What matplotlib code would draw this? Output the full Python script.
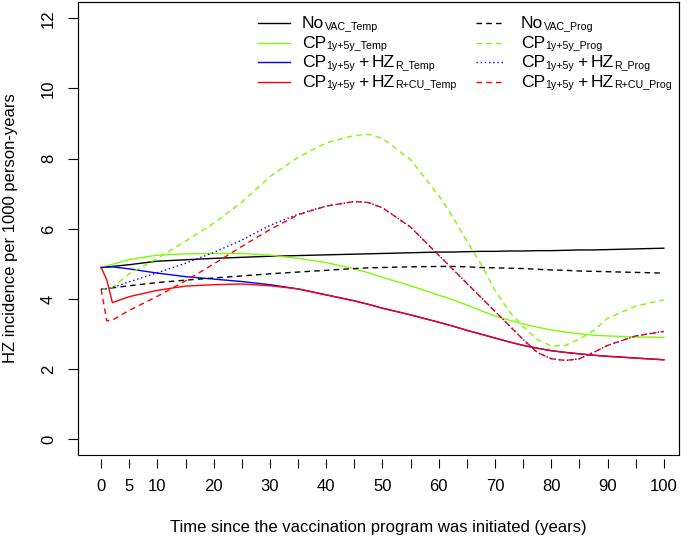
import matplotlib
matplotlib.use('Agg')
import matplotlib.pyplot as plt

plt.rcParams['font.family'] = ['Liberation Sans', 'DejaVu Sans']
plt.rcParams['lines.scale_dashes'] = False

# time since the program started (years)
years = [0, 1, 2, 5, 10, 15, 20, 25, 30, 35, 40, 45, 47.5, 50, 55, 60, 62.5, 65, 67.5,
         70, 72.5, 75, 77.5, 80, 82.5, 85, 87.5, 90, 95, 100]

# HZ incidence per 1000 person-years
novac_temp = [4.90, 4.91, 4.93, 4.98, 5.08, 5.12, 5.16, 5.19, 5.22, 5.24,
              5.26, 5.28, 5.29, 5.30, 5.32, 5.34, 5.34, 5.35, 5.36, 5.36,
              5.37, 5.37, 5.38, 5.38, 5.39, 5.40, 5.40, 5.41, 5.43, 5.45]
cp_temp = [4.90, 4.95, 4.99, 5.13, 5.25, 5.29, 5.30, 5.30, 5.25, 5.16,
           5.04, 4.86, 4.75, 4.62, 4.38, 4.11, 3.98, 3.83, 3.67, 3.52,
           3.40, 3.29, 3.20, 3.12, 3.06, 3.01, 2.97, 2.95, 2.92, 2.91]
hzr_temp = [4.90, 4.91, 4.92, 4.86, 4.74, 4.64, 4.57, 4.50, 4.41, 4.29,
            4.12, 3.95, 3.85, 3.74, 3.55, 3.34, 3.23, 3.11, 3.00, 2.89,
            2.78, 2.68, 2.60, 2.53, 2.48, 2.44, 2.40, 2.37, 2.32, 2.27]
hzrcu_temp = [4.90, 4.55, 3.90, 4.07, 4.25, 4.37, 4.41, 4.43, 4.38, 4.29,
              4.12, 3.95, 3.85, 3.74, 3.55, 3.34, 3.23, 3.11, 3.00, 2.89,
              2.78, 2.68, 2.60, 2.53, 2.48, 2.44, 2.40, 2.37, 2.32, 2.27]
novac_prog = [4.28, 4.30, 4.32, 4.38, 4.47, 4.54, 4.60, 4.66, 4.72, 4.77,
              4.82, 4.87, 4.89, 4.90, 4.92, 4.93, 4.93, 4.92, 4.90, 4.89,
              4.88, 4.87, 4.85, 4.83, 4.82, 4.80, 4.79, 4.78, 4.76, 4.74]
cp_prog = [4.28, 4.30, 4.34, 4.72, 5.16, 5.65, 6.16, 6.76, 7.49, 8.04,
           8.45, 8.66, 8.69, 8.58, 7.97, 6.95, 6.34, 5.65, 5.00, 4.25,
           3.65, 3.22, 2.85, 2.66, 2.68, 2.86, 3.10, 3.45, 3.80, 3.98]
hzr_prog = [4.28, 4.29, 4.33, 4.49, 4.75, 5.02, 5.33, 5.68, 6.10, 6.42,
            6.65, 6.78, 6.75, 6.60, 6.05, 5.25, 4.85, 4.45, 4.05, 3.65,
            3.25, 2.85, 2.48, 2.30, 2.25, 2.30, 2.48, 2.68, 2.95, 3.08]
hzrcu_prog = [4.28, 3.38, 3.40, 3.68, 4.08, 4.52, 5.00, 5.50, 5.98, 6.40,
              6.65, 6.78, 6.75, 6.60, 6.05, 5.25, 4.85, 4.45, 4.05, 3.65,
              3.25, 2.85, 2.48, 2.30, 2.25, 2.30, 2.48, 2.68, 2.95, 3.08]

x_ticks = list(range(0, 101, 5))
x_labels = ['0', '5', '10', '', '20', '', '30', '', '40', '', '50', '', '60', '',
            '70', '', '80', '', '90', '', '100']
y_ticks = [0, 2, 4, 6, 8, 10, 12]

green = '#7CFC00'
solid = '-'
dash = (0, (4, 3))
dot = (0, (1, 2))
lw = 1.0

# legend texts as (text, is_subscript, gap before in points)
lab_nv_t = [('No', 0, 0), ('VAC_Temp', 1, 0.3)]
lab_cp_t = [('CP', 0, 0), ('1y+5y_Temp', 1, 0.3)]
lab_hr_t = [('CP', 0, 0), ('1y+5y', 1, 0.3), ('+', 0, 2.4), ('HZ', 0, 1.8), ('R_Temp', 1, 0.3)]
lab_hc_t = [('CP', 0, 0), ('1y+5y', 1, 0.3), ('+', 0, 2.4), ('HZ', 0, 1.8), ('R+CU_Temp', 1, 0.3)]
lab_nv_p = [('No', 0, 0), ('VAC_Prog', 1, 0.3)]
lab_cp_p = [('CP', 0, 0), ('1y+5y_Prog', 1, 0.3)]
lab_hr_p = [('CP', 0, 0), ('1y+5y', 1, 0.3), ('+', 0, 2.4), ('HZ', 0, 1.8), ('R_Prog', 1, 0.3)]
lab_hc_p = [('CP', 0, 0), ('1y+5y', 1, 0.3), ('+', 0, 2.4), ('HZ', 0, 1.8), ('R+CU_Prog', 1, 0.3)]

# drawing order: temporary first, then progressive
series = [
    (novac_temp, 'black', solid, lab_nv_t),
    (cp_temp, green, solid, lab_cp_t),
    (hzr_temp, 'blue', solid, lab_hr_t),
    (hzrcu_temp, 'red', solid, lab_hc_t),
    (novac_prog, 'black', dash, lab_nv_p),
    (cp_prog, green, dash, lab_cp_p),
    (hzr_prog, 'blue', dot, lab_hr_p),
    (hzrcu_prog, 'red', dash, lab_hc_p),
]

fig = plt.figure(figsize=(6.89, 5.39), dpi=100)
ax = fig.add_axes([0.1125, 0.156, 0.873, 0.840])

for vals, col, ls, lab in series:
    ax.plot(years, vals, color=col, lw=lw, ls=ls)

ax.set_xlim(-4.2, 102.7)
ax.set_ylim(-0.44, 12.46)

# box drawn separately, x axis ticks sit a little below it
for s in ['top', 'right', 'left']:
    ax.spines[s].set_linewidth(0.8)
ax.spines['bottom'].set_position(('outward', 3))
ax.spines['bottom'].set_visible(False)
box = plt.Rectangle((0, 0), 1, 1, transform=ax.transAxes, fill=False,
                    lw=0.8, edgecolor='black', clip_on=False)
ax.add_patch(box)

ax.set_xticks(x_ticks)
ax.set_xticklabels(x_labels)
ax.set_yticks(y_ticks)
ax.set_yticklabels([str(v) for v in y_ticks], rotation=90, va='center')
ax.tick_params(axis='x', length=6.5, width=0.8, pad=8, labelsize=12)
ax.tick_params(axis='y', length=7.5, width=0.8, pad=8, labelsize=12)

ax.set_xlabel('Time since the vaccination program was initiated (years)', fontsize=12, va='center')
ax.xaxis.set_label_coords(0.5, -0.161)
ax.set_ylabel('HZ incidence per 1000 person-years', fontsize=12, va='center')
ax.yaxis.set_label_coords(-0.112, 0.5)

# legend, built by hand so the subscripts come out like R plotmath
main_fs = 12.6
sub_fs = 7.7
col_x = [(0.300, 0.353, 0.373), (0.6625, 0.711, 0.737)]   # handle start, handle end, text
row_y = [0.9536, 0.9104, 0.8671, 0.8238]
base_off = 0.0106


def legend_text(x, y, parts):
    prev = None
    for text, is_sub, gap in parts:
        fs = sub_fs if is_sub else main_fs
        dy = -1.2 if is_sub else 0
        if prev is None:
            prev = ax.text(x, y, text, transform=ax.transAxes, fontsize=fs,
                           va='baseline', ha='left')
        else:
            prev = ax.annotate(text, xy=(1, y), xycoords=(prev, 'axes fraction'),
                               xytext=(gap, dy), textcoords='offset points',
                               fontsize=fs, va='baseline', ha='left')


for i, (vals, col, ls, lab) in enumerate(series):
    hx0, hx1, tx = col_x[i // 4]
    ry = row_y[i % 4]
    ax.plot([hx0, hx1], [ry, ry], transform=ax.transAxes, color=col, lw=lw,
            ls=ls, clip_on=False)
    legend_text(tx, ry - base_off, lab)

fig.savefig('out.png', dpi=100)
